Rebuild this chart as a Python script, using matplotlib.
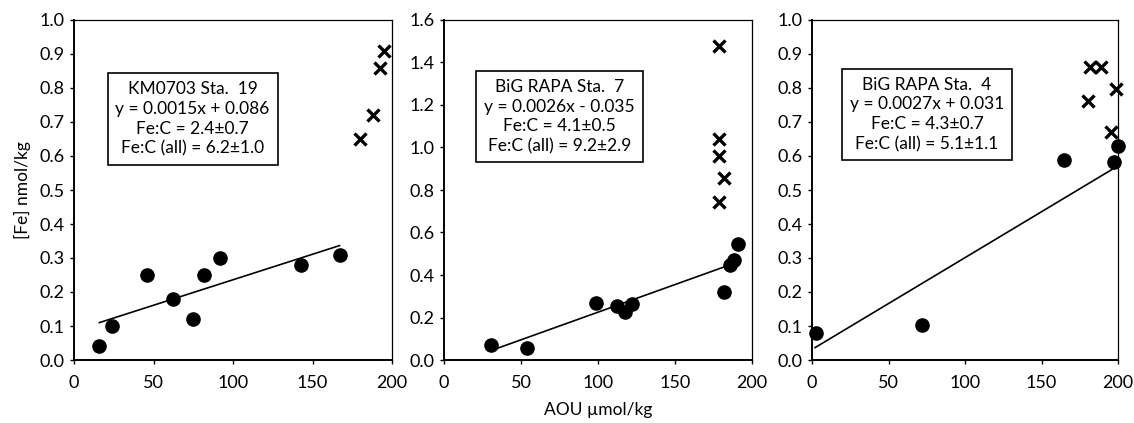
import matplotlib

matplotlib.use("Agg")
import matplotlib.pyplot as plt
import numpy as np

plt.rcParams["font.family"] = ["Lato", "DejaVu Sans"]

# KM0703 Sta. 19
aou_1 = [16, 24, 46, 62, 75, 82, 91.6, 143, 167]
fe_1 = [0.04, 0.10, 0.25, 0.18, 0.12, 0.25, 0.30, 0.28, 0.31]
aou_1_x = [180, 188, 192.5, 195]
fe_1_x = [0.65, 0.72, 0.86, 0.91]
fit_1 = (0.0015, 0.086, 16, 167)
text_1 = ["KM0703 Sta.  19", "y = 0.0015x + 0.086", "Fe:C = 2.4\u00b10.7", "Fe:C (all) = 6.2\u00b11.0"]

# BiG RAPA Sta. 7
aou_2 = [30.8, 54.2, 98.9, 112.6, 117.6, 122.3, 181.6, 185.9, 188.5, 190.7]
fe_2 = [0.07, 0.058, 0.267, 0.254, 0.224, 0.262, 0.32, 0.447, 0.47, 0.544]
aou_2_x = [178.3, 178.3, 178.3, 182, 178.3]
fe_2_x = [1.479, 1.038, 0.96, 0.855, 0.745]
fit_2 = (0.0026, -0.035, 30, 183.5)
text_2 = ["BiG RAPA Sta.  7", "y = 0.0026x - 0.035", "Fe:C = 4.1\u00b10.5", "Fe:C (all) = 9.2\u00b12.9"]

# BiG RAPA Sta. 4
aou_3 = [2.8, 71.7, 164.5, 197.4, 199.8]
fe_3 = [0.078, 0.103, 0.587, 0.581, 0.629]
aou_3_x = [182, 189, 180.6, 198.5, 195.3]
fe_3_x = [0.863, 0.863, 0.763, 0.797, 0.670]
fit_3 = (0.0027, 0.031, 2, 198)
text_3 = ["BiG RAPA Sta.  4", "y = 0.0027x + 0.031", "Fe:C = 4.3\u00b10.7", "Fe:C (all) = 5.1\u00b11.1"]

y_limits = [(0, 1.0, 0.1), (0, 1.6, 0.2), (0, 1.0, 0.1)]
x_ticks = [0, 50, 100, 150, 200]

panels = [
    (aou_1, fe_1, aou_1_x, fe_1_x, fit_1, text_1),
    (aou_2, fe_2, aou_2_x, fe_2_x, fit_2, text_2),
    (aou_3, fe_3, aou_3_x, fe_3_x, fit_3, text_3),
]
rects = [
    [74 / 1134, 63 / 423, 318 / 1134, 340 / 423],
    [444 / 1134, 63 / 423, 308 / 1134, 340 / 423],
    [812 / 1134, 63 / 423, 306 / 1134, 340 / 423],
]
box_centers = [(0.373, 0.709), (0.375, 0.716), (0.376, 0.722)]

fig = plt.figure(figsize=(11.34, 4.23), dpi=100)
for i, (rect, panel, lim, center) in enumerate(zip(rects, panels, y_limits, box_centers)):
    x, y, xx, yx, fit, lines = panel
    ax = fig.add_axes(rect)
    ax.plot(x, y, "o", color="black", markersize=9.5, clip_on=False, zorder=3)
    ax.plot(xx, yx, "x", color="black", markersize=8, markeredgewidth=2.4, clip_on=False, zorder=3)
    slope, icpt, x0, x1 = fit
    fx = np.array([x0, x1])
    ax.plot(fx, slope * fx + icpt, color="black", linewidth=1.2)
    ax.set_xlim(0, 200)
    ax.set_ylim(lim[0], lim[1])
    ax.set_xticks(x_ticks)
    yt = np.arange(lim[0], lim[1] + lim[2] / 2, lim[2])
    ax.set_yticks(yt)
    ax.set_yticklabels([f"{v:.1f}" for v in yt])
    ax.tick_params(direction="out", length=3, width=1, labelsize=13, pad=4)
    ax.tick_params(axis="x", pad=8)
    for side in ["left", "bottom"]:
        ax.spines[side].set_linewidth(1.4)
    for side in ["top", "right"]:
        ax.spines[side].set_linewidth(0.9)
    ax.text(
        center[0], center[1], "\n".join(lines),
        transform=ax.transAxes, ha="center", va="center", fontsize=12.5, linespacing=1.3,
        bbox=dict(boxstyle="square,pad=0.45", facecolor="white", edgecolor="black", linewidth=1.2),
    )
    if i == 0:
        ax.set_ylabel("[Fe] nmol/kg", fontsize=12.5, labelpad=6)
    if i == 1:
        ax.set_xlabel("AOU \u00b5mol/kg", fontsize=12.5, labelpad=8)

fig.savefig("out.png", dpi=100)
